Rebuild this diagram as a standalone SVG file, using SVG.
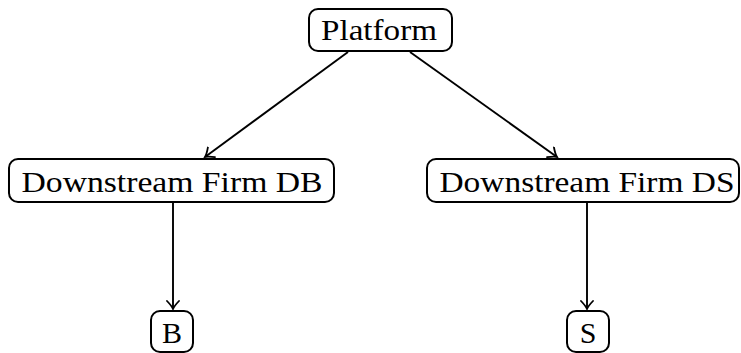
<svg xmlns="http://www.w3.org/2000/svg" width="741" height="353" viewBox="0 0 741 353">
<defs>
<marker id="arr" viewBox="-9 -7 11 14" markerWidth="11" markerHeight="14" refX="0" refY="0" orient="auto" markerUnits="userSpaceOnUse">
<path d="M-8,-6 Q-3,-1.2 0,0 Q-3,1.2 -8,6" fill="none" stroke="#000" stroke-width="1.8" stroke-linecap="round"/>
</marker>
<style>
.box{fill:#fff;stroke:#000;stroke-width:2}
.lbl{font-family:"Liberation Serif","DejaVu Serif",serif;font-size:30px;fill:#000;text-anchor:middle}
.edge{fill:none;stroke:#000;stroke-width:1.9;marker-end:url(#arr)}
</style>
</defs>
<g id="connectors">
<line class="edge" x1="348" y1="52" x2="205" y2="157"/>
<line class="edge" x1="410" y1="52" x2="557" y2="157"/>
<line class="edge" x1="173" y1="203" x2="173" y2="309"/>
<line class="edge" x1="587" y1="203" x2="587" y2="309"/>
</g>
<g id="platform">
<rect class="box" x="309" y="9" width="143" height="42" rx="9"/>
<text class="lbl" x="379" y="40" textLength="116" lengthAdjust="spacingAndGlyphs">Platform</text>
</g>
<g id="firmDB">
<rect class="box" x="9" y="159" width="325" height="43" rx="9"/>
<text class="lbl" x="172" y="192" textLength="301" lengthAdjust="spacingAndGlyphs">Downstream Firm DB</text>
</g>
<g id="firmDS">
<rect class="box" x="427" y="159" width="312" height="43" rx="9"/>
<text class="lbl" x="587" y="192" textLength="295" lengthAdjust="spacingAndGlyphs">Downstream Firm DS</text>
</g>
<g id="B">
<rect class="box" x="151" y="311" width="42" height="41" rx="9"/>
<text class="lbl" x="172" y="343">B</text>
</g>
<g id="S">
<rect class="box" x="567" y="311" width="42" height="41" rx="9"/>
<text class="lbl" x="588" y="343">S</text>
</g>
</svg>
